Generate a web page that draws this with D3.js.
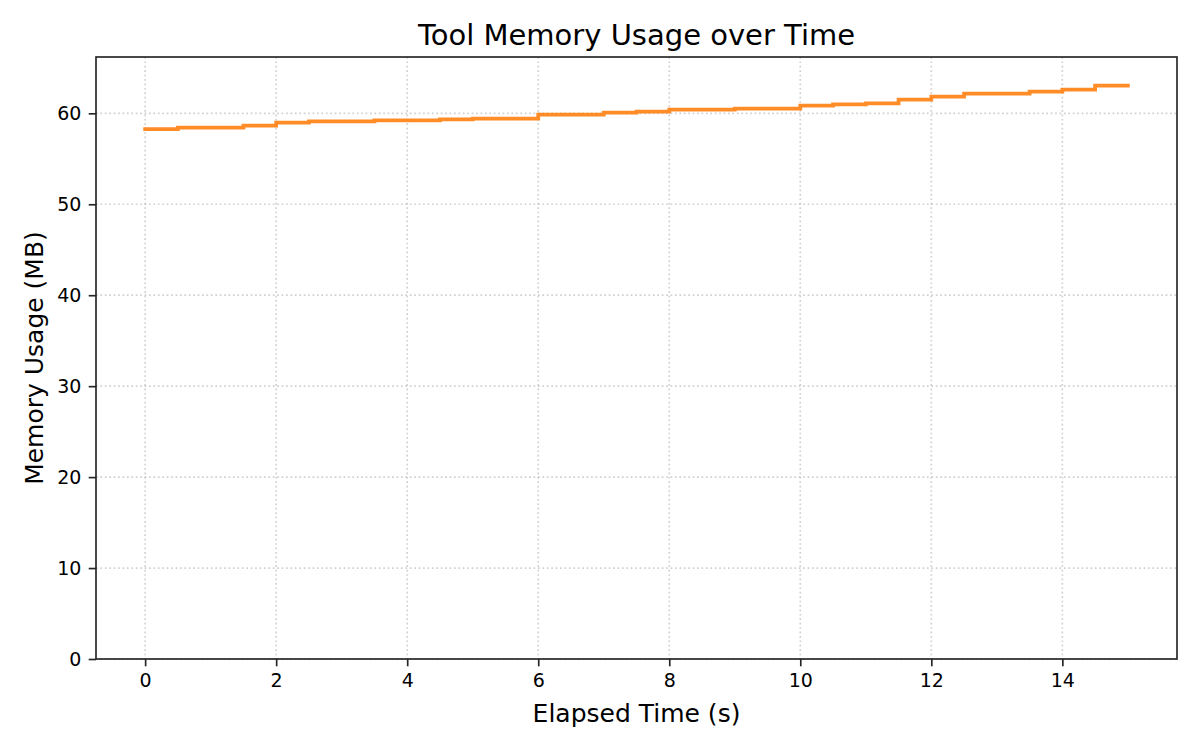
<!DOCTYPE html>
<html>
<head>
<meta charset="utf-8">
<script src="https://cdn.jsdelivr.net/npm/d3@7"></script>
<style>
  html, body { margin: 0; padding: 0; background: #fff; }
  svg { display: block; font-family: "DejaVu Sans", sans-serif; }
</style>
</head>
<body>
<svg id="chart" width="1200" height="750"></svg>
<script>
// Data: elapsed time (s) and memory usage (MB), step-wise
const times = [0, 0.5, 1, 1.5, 2, 2.5, 3, 3.5, 4, 4.5, 5, 5.5, 6, 6.5, 7, 7.5,
               8, 8.5, 9, 9.5, 10, 10.5, 11, 11.5, 12, 12.5, 13, 13.5, 14, 14.5, 15];
const memory = [58.27, 58.42, 58.42, 58.64, 58.97, 59.12, 59.12, 59.23, 59.23, 59.34,
                59.41, 59.41, 59.85, 59.85, 60.07, 60.18, 60.40, 60.40, 60.51, 60.51,
                60.84, 60.99, 61.10, 61.50, 61.83, 62.16, 62.16, 62.38, 62.60, 63.04, 63.04];
const xTicks = [0, 2, 4, 6, 8, 10, 12, 14];
const yTicks = [0, 10, 20, 30, 40, 50, 60];

const title = "Tool Memory Usage over Time";
const xLabel = "Elapsed Time (s)";
const yLabel = "Memory Usage (MB)";

const svg = d3.select("#chart");
const mLeft = 96, mRight = 1177, mTop = 57, mBottom = 659;

const xMin = d3.min(times), xMax = d3.max(times);
const xPad = (xMax - xMin) * 0.05;
const x = d3.scaleLinear().domain([xMin - xPad, xMax + xPad]).range([mLeft, mRight]);
const y = d3.scaleLinear().domain([0, d3.max(memory) * 1.05]).range([mBottom, mTop]);

// grid
const grid = svg.append("g");
grid.selectAll(".gx").data(xTicks).enter().append("line")
  .attr("x1", d => x(d)).attr("x2", d => x(d))
  .attr("y1", mTop).attr("y2", mBottom)
  .attr("stroke", "#b0b0b0").attr("stroke-opacity", 0.6)
  .attr("stroke-width", 1.67).attr("stroke-dasharray", "1.67,2.75");
grid.selectAll(".gy").data(yTicks).enter().append("line")
  .attr("x1", mLeft).attr("x2", mRight)
  .attr("y1", d => y(d)).attr("y2", d => y(d))
  .attr("stroke", "#b0b0b0").attr("stroke-opacity", 0.6)
  .attr("stroke-width", 1.67).attr("stroke-dasharray", "1.67,2.75");

// line
const data = times.map((t, i) => ({ t, m: memory[i] }));
const line = d3.line().x(d => x(d.t)).y(d => y(d.m)).curve(d3.curveStepAfter);
svg.append("path").datum(data)
  .attr("d", line)
  .attr("fill", "none")
  .attr("stroke", "#ff7f0e").attr("stroke-opacity", 0.9)
  .attr("stroke-width", 3.75)
  .attr("stroke-linecap", "square");

// axes
const xAxis = d3.axisBottom(x).tickValues(xTicks).tickSize(7.3).tickPadding(7.3).tickFormat(d3.format("d"));
const yAxis = d3.axisLeft(y).tickValues(yTicks).tickSize(7.3).tickPadding(7.3).tickFormat(d3.format("d"));

const gx = svg.append("g").attr("transform", `translate(0,${mBottom})`).call(xAxis);
const gy = svg.append("g").attr("transform", `translate(${mLeft},0)`).call(yAxis);
[gx, gy].forEach(g => {
  g.select(".domain").remove();
  g.selectAll(".tick line").attr("stroke", "#262626").attr("stroke-width", 1.67);
  g.selectAll(".tick text").attr("fill", "#000").style("font-size", "19px")
    .style("font-family", "'DejaVu Sans', sans-serif");
});

// frame
svg.append("rect").attr("x", mLeft).attr("y", mTop)
  .attr("width", mRight - mLeft).attr("height", mBottom - mTop)
  .attr("fill", "none").attr("stroke", "#262626").attr("stroke-width", 1.67);

// labels
svg.append("text").attr("x", (mLeft + mRight) / 2).attr("y", 44.5)
  .attr("text-anchor", "middle").style("font-size", "29px").attr("fill", "#000")
  .text(title);
svg.append("text").attr("x", (mLeft + mRight) / 2).attr("y", 722)
  .attr("text-anchor", "middle").style("font-size", "25px").attr("fill", "#000")
  .text(xLabel);
svg.append("text").attr("transform", `translate(43.3,${(mTop + mBottom) / 2}) rotate(-90)`)
  .attr("text-anchor", "middle").style("font-size", "25px").attr("fill", "#000")
  .text(yLabel);
</script>
</body>
</html>
